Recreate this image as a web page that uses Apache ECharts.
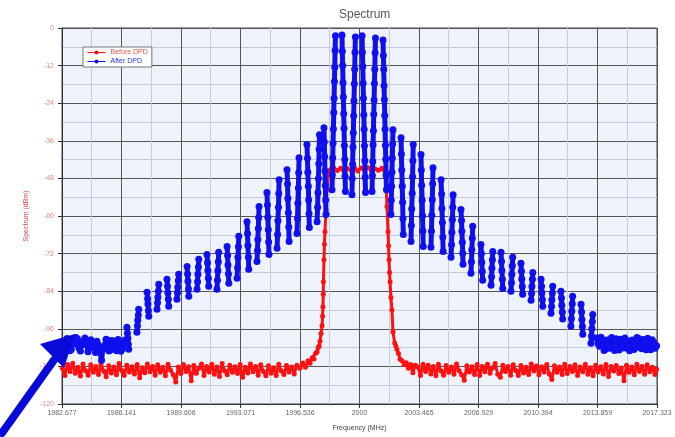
<!DOCTYPE html>
<html>
<head>
<meta charset="utf-8">
<script src="https://cdn.jsdelivr.net/npm/echarts@6/dist/echarts.min.js"></script>
<style>html,body{margin:0;padding:0;background:#fff;}#c{width:675px;height:437px;}</style>
</head>
<body>
<div id="c"></div>
<script>
// ---- tick labels ----
const xTickLabels = ['1982.677','1986.141','1989.606','1993.071','1996.536','2000','2003.465','2006.929','2010.394','2013.859','2017.323'];
const seriesNames = ['Before DPD','After DPD'];

// ---- Before DPD (red) [MHz, dBm] ----
const redFloorLeft = [
[1982.70,-108.6],[1982.85,-110.9],[1983.00,-107.4],[1983.15,-109.6],[1983.30,-107.0],[1983.45,-110.2],[1983.60,-108.3],[1983.75,-111.1],[1983.90,-107.2],[1984.05,-109.4],
[1984.20,-110.8],[1984.35,-107.5],[1984.50,-109.9],[1984.65,-108.0],[1984.80,-110.6],[1984.95,-107.3],[1985.10,-109.5],[1985.25,-111.3],[1985.40,-107.8],[1985.55,-110.1],
[1985.70,-108.2],[1985.85,-110.7],[1986.00,-107.1],[1986.15,-109.3],[1986.30,-110.9],[1986.45,-107.6],[1986.60,-109.8],[1986.75,-108.1],[1986.90,-110.4],[1987.05,-107.4],
[1987.20,-111.6],[1987.35,-108.4],[1987.50,-110.0],[1987.65,-107.2],[1987.80,-109.7],[1987.95,-108.0],[1988.10,-110.8],[1988.25,-107.5],[1988.40,-109.9],[1988.55,-108.3],
[1988.70,-111.0],[1988.85,-107.3],[1989.00,-109.2],[1989.15,-110.6],[1989.30,-113.0],[1989.45,-108.2],[1989.60,-110.3],[1989.75,-107.4],[1989.90,-109.6],[1990.05,-108.1],
[1990.20,-112.6],[1990.35,-107.7],[1990.50,-110.2],[1990.65,-108.5],[1990.80,-107.2],[1990.95,-110.9],[1991.10,-108.0],[1991.25,-109.8],[1991.40,-107.3],[1991.55,-110.5],
[1991.70,-108.2],[1991.85,-111.2],[1992.00,-107.1],[1992.15,-109.5],[1992.30,-110.7],[1992.45,-107.6],[1992.60,-109.9],[1992.75,-108.1],[1992.90,-110.3],[1993.05,-107.4],
[1993.20,-111.5],[1993.35,-108.3],[1993.50,-110.1],[1993.65,-107.2],[1993.80,-109.7],[1993.95,-108.0],[1994.10,-110.8],[1994.25,-107.5],[1994.40,-109.6],[1994.55,-111.0],
[1994.70,-107.8],[1994.85,-110.2],[1995.00,-108.4],[1995.15,-110.9],[1995.30,-107.3],[1995.45,-109.5],[1995.60,-110.6],[1995.75,-107.7],[1995.90,-109.8],[1996.05,-108.2],
[1996.20,-110.4],[1996.35,-107.6]
];
const redCarrier = [
[1996.53,-108.6],[1996.70,-106.9],[1996.85,-108.3],[1997.00,-106.2],[1997.12,-107.0],[1997.25,-105.2],[1997.35,-105.6],[1997.45,-103.8],[1997.53,-103.4],[1997.60,-102.0],
[1997.65,-101.5],[1997.70,-100.0],[1997.76,-97.5],[1997.82,-95.0],[1997.85,-92.0],[1997.87,-89.0],[1997.89,-85.0],[1997.90,-81.0],[1997.93,-74.0],[1997.96,-69.0],
[1997.99,-65.0],[1998.05,-58.0],[1998.11,-51.6],[1998.17,-47.0],
[1998.30,-45.2],[1998.50,-44.6],[1998.70,-45.5],[1998.90,-44.8],[1999.10,-45.8],[1999.30,-44.9],[1999.50,-45.4],[1999.70,-44.5],[1999.90,-45.6],[2000.10,-44.7],
[2000.30,-45.3],[2000.50,-44.6],[2000.70,-45.7],[2000.90,-44.9],[2001.10,-45.4],[2001.30,-44.8],[2001.50,-46.5],[2001.56,-51.0],[2001.60,-57.0],[2001.66,-65.0],
[2001.69,-69.5],[2001.72,-74.0],[2001.75,-78.0],[2001.78,-81.0],[2001.83,-86.0],[2001.89,-90.0],[2001.95,-97.0],[2002.05,-100.5],[2002.12,-101.6],[2002.18,-102.5],
[2002.27,-103.9],[2002.36,-105.7],[2002.48,-106.2],[2002.60,-107.5],[2002.72,-106.8],[2002.85,-108.6],[2002.98,-107.4],[2003.11,-110.0],[2003.25,-107.6]
];
const redFloorRight = [
[2003.40,-108.2],[2003.55,-110.9],[2003.70,-107.3],[2003.85,-109.6],[2004.00,-107.6],[2004.15,-110.4],[2004.30,-108.0],[2004.45,-111.0],[2004.60,-107.3],[2004.75,-109.5],
[2004.90,-110.8],[2005.05,-107.7],[2005.20,-109.9],[2005.35,-108.2],[2005.50,-110.5],[2005.65,-107.2],[2005.80,-109.4],[2005.95,-110.7],[2006.10,-112.4],[2006.25,-107.8],
[2006.40,-109.8],[2006.55,-108.1],[2006.70,-110.6],[2006.85,-107.4],[2007.00,-110.9],[2007.15,-108.0],[2007.30,-109.7],[2007.45,-107.3],[2007.60,-110.2],[2007.75,-108.4],
[2007.90,-107.1],[2008.05,-110.5],[2008.20,-111.5],[2008.35,-107.6],[2008.50,-109.6],[2008.65,-108.0],[2008.80,-110.8],[2008.95,-107.5],[2009.10,-109.3],[2009.25,-110.9],
[2009.40,-107.7],[2009.55,-110.1],[2009.70,-108.3],[2009.85,-110.6],[2010.00,-107.2],[2010.15,-109.5],[2010.30,-107.9],[2010.45,-110.7],[2010.60,-108.1],[2010.75,-109.8],
[2010.90,-107.4],[2011.05,-110.4],[2011.20,-112.2],[2011.35,-107.8],[2011.50,-109.9],[2011.65,-108.2],[2011.80,-110.6],[2011.95,-107.3],[2012.10,-110.3],[2012.25,-108.0],
[2012.40,-109.6],[2012.55,-107.5],[2012.70,-110.9],[2012.85,-108.2],[2013.00,-109.7],[2013.15,-107.3],[2013.30,-110.5],[2013.45,-108.4],[2013.60,-111.0],[2013.75,-107.6],
[2013.90,-109.8],[2014.05,-108.1],[2014.20,-110.4],[2014.35,-107.4],[2014.50,-111.2],[2014.65,-108.0],[2014.80,-109.5],[2014.95,-107.7],[2015.10,-110.3],[2015.25,-108.5],
[2015.40,-112.6],[2015.55,-107.6],[2015.70,-109.9],[2015.85,-108.2],[2016.00,-110.7],[2016.15,-107.3],[2016.30,-109.6],[2016.45,-108.0],[2016.60,-110.5],[2016.75,-107.5],
[2016.90,-109.7],[2017.05,-108.3],[2017.20,-110.6],[2017.30,-108.9]
];

// ---- After DPD (blue) [MHz, dBm] : noise floors and comb stripes ----
const blueFloorLeft = [
[1982.70,-100.2],[1982.80,-102.6],[1982.88,-101.8],[1982.97,-99.1],[1983.05,-99.5],[1983.14,-103.0],[1983.22,-102.6],[1983.31,-100.0],[1983.40,-100.8],[1983.49,-98.8],
[1983.58,-99.2],[1983.66,-102.1],[1983.75,-103.1],[1983.84,-100.4],[1983.93,-101.0],[1984.01,-98.9],[1984.10,-99.8],[1984.19,-103.3],[1984.28,-102.2],[1984.36,-99.5],
[1984.45,-100.4],[1984.54,-101.7],[1984.63,-103.6],[1984.71,-100.0],[1984.80,-101.2],[1984.89,-103.4],[1984.98,-106.0],[1985.06,-102.5],[1985.15,-101.9],[1985.24,-99.3],
[1985.33,-99.6],[1985.41,-103.1],[1985.50,-102.8],[1985.59,-99.7],[1985.68,-100.1],[1985.76,-102.0],[1985.85,-103.0],[1985.94,-99.4],[1986.03,-100.6],[1986.11,-103.2],
[1986.20,-102.4],[1986.35,-99.6]
];
const blueStripesLeft = [
[[1986.46,-95.5],[1986.49,-97.4],[1986.51,-99.0],[1986.54,-100.9],[1986.56,-102.5]],
[[1987.04,-97.1],[1987.07,-95.0],[1987.09,-93.3],[1987.12,-91.6],[1987.14,-89.8]],
[[1987.63,-84.3],[1987.66,-86.4],[1987.68,-88.1],[1987.71,-90.2],[1987.73,-92.0]],
[[1988.21,-89.8],[1988.24,-87.7],[1988.26,-85.9],[1988.29,-83.9],[1988.31,-81.8]],
[[1988.79,-80.2],[1988.82,-82.4],[1988.84,-84.5],[1988.87,-86.6],[1988.89,-88.8]],
[[1989.37,-86.6],[1989.40,-84.5],[1989.42,-82.7],[1989.45,-80.6],[1989.47,-78.6]],
[[1989.96,-76.1],[1989.99,-78.5],[1990.01,-80.8],[1990.04,-83.3],[1990.06,-85.6]],
[[1990.54,-83.4],[1990.57,-81.0],[1990.59,-78.6],[1990.62,-76.3],[1990.64,-73.8]],
[[1991.12,-72.3],[1991.15,-74.9],[1991.17,-77.4],[1991.20,-79.9],[1991.22,-82.4]],
[[1991.70,-83.4],[1991.73,-80.5],[1991.75,-77.5],[1991.78,-74.6],[1991.80,-71.6]],
[[1992.29,-69.7],[1992.32,-72.6],[1992.34,-75.6],[1992.37,-78.5],[1992.39,-81.5]],
[[1992.87,-79.9],[1992.90,-76.5],[1992.92,-73.2],[1992.95,-69.8],[1992.97,-66.5]],
[[1993.45,-61.8],[1993.48,-65.6],[1993.50,-69.4],[1993.53,-73.2],[1993.55,-77.0]],
[[1994.03,-74.5],[1994.06,-71.0],[1994.08,-67.5],[1994.11,-64.0],[1994.13,-60.5],[1994.15,-57.0]],
[[1994.61,-52.5],[1994.64,-56.5],[1994.66,-60.4],[1994.69,-64.4],[1994.71,-68.3],[1994.73,-72.3]],
[[1995.20,-70.3],[1995.23,-65.9],[1995.25,-61.5],[1995.28,-57.2],[1995.30,-52.8],[1995.32,-48.4]],
[[1995.78,-45.2],[1995.81,-49.8],[1995.83,-54.4],[1995.86,-59.0],[1995.88,-63.5],[1995.90,-68.1]],
[[1996.36,-65.6],[1996.39,-60.8],[1996.41,-55.9],[1996.44,-51.1],[1996.46,-46.2],[1996.48,-41.4]],
[[1996.94,-37.2],[1996.97,-41.6],[1996.99,-46.0],[1997.02,-50.5],[1997.04,-54.9],[1997.06,-59.3],[1997.08,-63.7]],
[[1997.53,-61.8],[1997.56,-57.2],[1997.58,-52.6],[1997.61,-48.0],[1997.63,-43.3],[1997.65,-38.7],[1997.67,-34.1]],
[[1997.93,-31.8],[1997.95,-36.4],[1997.97,-41.0],[1997.99,-45.6],[1998.01,-50.3],[1998.03,-54.9],[1998.05,-59.5]]
];
const blueStripesCenter = [
[[1998.40,-51.6],[1998.42,-46.9],[1998.44,-41.5],[1998.46,-36.8],[1998.48,-32.2],[1998.50,-27.0],[1998.52,-22.4],[1998.54,-17.1],[1998.56,-12.5],[1998.58,-7.2],[1998.60,-2.5]],
[[1998.98,-2.2],[1999.00,-7.4],[1999.02,-12.0],[1999.04,-17.5],[1999.06,-22.0],[1999.08,-27.4],[1999.10,-32.0],[1999.12,-37.5],[1999.14,-42.0],[1999.16,-47.3],[1999.18,-52.2]],
[[1999.56,-53.2],[1999.58,-48.0],[1999.60,-43.5],[1999.62,-38.0],[1999.64,-33.4],[1999.66,-28.0],[1999.68,-23.2],[1999.70,-17.8],[1999.72,-13.2],[1999.74,-7.7],[1999.76,-2.9]],
[[2000.15,-2.5],[2000.17,-7.7],[2000.19,-12.3],[2000.21,-17.6],[2000.23,-22.4],[2000.25,-27.7],[2000.27,-32.3],[2000.29,-37.6],[2000.31,-42.4],[2000.33,-47.6],[2000.35,-52.5]],
[[2000.73,-52.2],[2000.75,-47.1],[2000.77,-42.6],[2000.79,-37.3],[2000.81,-32.8],[2000.83,-27.5],[2000.85,-23.0],[2000.87,-17.7],[2000.89,-13.2],[2000.91,-7.9],[2000.93,-3.2]],
[[2001.37,-3.8],[2001.39,-8.8],[2001.41,-13.2],[2001.43,-18.4],[2001.45,-22.8],[2001.47,-27.9],[2001.49,-32.3],[2001.51,-37.5],[2001.53,-41.9],[2001.55,-47.1],[2001.57,-51.6]]
];
const blueStripesRight = [
[[2001.83,-59.5],[2001.85,-55.0],[2001.87,-50.5],[2001.89,-46.0],[2001.91,-41.5],[2001.93,-37.0],[2001.95,-32.5]],
[[2002.42,-35.0],[2002.44,-40.2],[2002.46,-45.3],[2002.49,-50.5],[2002.51,-55.6],[2002.53,-60.8],[2002.55,-65.9]],
[[2003.00,-68.1],[2003.02,-63.0],[2003.04,-57.8],[2003.07,-52.7],[2003.09,-47.5],[2003.11,-42.4],[2003.13,-37.2]],
[[2003.58,-40.4],[2003.60,-45.3],[2003.62,-50.2],[2003.65,-55.0],[2003.67,-59.9],[2003.69,-64.8],[2003.71,-69.7]],
[[2004.16,-70.0],[2004.19,-64.9],[2004.21,-59.8],[2004.24,-54.8],[2004.26,-49.7],[2004.28,-44.6]],
[[2004.75,-48.4],[2004.78,-53.0],[2004.80,-57.6],[2004.83,-62.1],[2004.85,-66.7],[2004.87,-71.3]],
[[2005.33,-73.2],[2005.36,-69.2],[2005.38,-65.2],[2005.41,-61.2],[2005.43,-57.2],[2005.45,-53.2]],
[[2005.91,-57.9],[2005.94,-61.4],[2005.96,-64.9],[2005.99,-68.4],[2006.01,-71.9],[2006.03,-75.4]],
[[2006.49,-78.3],[2006.52,-74.6],[2006.54,-70.8],[2006.57,-67.1],[2006.59,-63.3]],
[[2007.07,-69.1],[2007.10,-72.0],[2007.12,-74.8],[2007.15,-77.7],[2007.17,-80.5]],
[[2007.66,-82.1],[2007.69,-79.4],[2007.71,-76.7],[2007.74,-74.0],[2007.76,-71.3]],
[[2008.24,-71.6],[2008.27,-74.5],[2008.29,-77.4],[2008.32,-80.2],[2008.34,-83.1]],
[[2008.82,-84.0],[2008.85,-81.3],[2008.87,-78.6],[2008.90,-75.9],[2008.92,-73.2]],
[[2009.40,-75.1],[2009.43,-77.6],[2009.45,-80.1],[2009.48,-82.5],[2009.50,-85.0]],
[[2009.99,-86.9],[2010.02,-84.7],[2010.04,-82.5],[2010.07,-80.2],[2010.09,-78.0]],
[[2010.57,-80.2],[2010.60,-82.4],[2010.62,-84.5],[2010.65,-86.7],[2010.67,-88.8]],
[[2011.15,-91.0],[2011.18,-88.9],[2011.20,-86.7],[2011.23,-84.6],[2011.25,-82.4]],
[[2011.73,-84.0],[2011.76,-86.2],[2011.78,-88.5],[2011.81,-90.7],[2011.83,-92.9]],
[[2012.31,-95.2],[2012.34,-92.8],[2012.36,-90.4],[2012.39,-88.0],[2012.41,-85.6]],
[[2012.90,-88.2],[2012.93,-90.6],[2012.95,-93.0],[2012.98,-95.3],[2013.00,-97.7]],
[[2013.48,-100.6],[2013.51,-98.3],[2013.53,-96.0],[2013.56,-93.7],[2013.58,-91.4]]
];
const blueFloorRight = [
[2013.80,-98.9],[2013.89,-100.8],[2013.98,-101.6],[2014.06,-98.7],[2014.15,-99.4],[2014.24,-102.9],[2014.33,-102.5],[2014.41,-99.6],[2014.50,-100.2],[2014.59,-102.2],
[2014.68,-98.8],[2014.76,-101.0],[2014.85,-102.9],[2014.94,-99.2],[2015.03,-100.6],[2015.11,-102.8],[2015.20,-99.3],[2015.29,-101.5],[2015.38,-102.1],[2015.46,-98.9],
[2015.55,-100.0],[2015.64,-102.4],[2015.73,-103.0],[2015.81,-99.8],[2015.90,-99.6],[2015.99,-102.6],[2016.08,-101.8],[2016.16,-98.8],[2016.25,-99.1],[2016.34,-101.9],
[2016.43,-102.4],[2016.51,-99.4],[2016.60,-100.5],[2016.69,-102.7],[2016.78,-99.0],[2016.86,-101.3],[2016.95,-102.7],[2017.04,-99.5],[2017.13,-100.3],[2017.22,-102.2],
[2017.30,-101.4]
];

const redData = [].concat(redFloorLeft, redCarrier, redFloorRight);
// stripes are separate runs: an empty value between runs breaks the line
const blueGroups = [blueFloorLeft].concat(blueStripesLeft, blueStripesCenter, blueStripesRight, [blueFloorRight]);
const blueData = [];
blueGroups.forEach(function (g) {
  g.forEach(function (p) { blueData.push(p); });
  blueData.push([g[g.length - 1][0], '-']);
});

const FONT = 'Liberation Sans, Arial, sans-serif';
const chart = echarts.init(document.getElementById('c'), null, {renderer: 'canvas'});
chart.setOption({
  animation: false,
  backgroundColor: '#ffffff',
  title: {
    text: 'Spectrum', left: 334, top: 4,
    textStyle: {color: '#555', fontSize: 12, fontWeight: 'normal', fontFamily: FONT}
  },
  legend: {
    orient: 'vertical', left: 83, top: 47,
    backgroundColor: '#ffffff', borderColor: '#777', borderWidth: 1,
    padding: [2, 4, 2, 4], itemGap: 2, itemWidth: 18, itemHeight: 5,
    data: [
      {name: seriesNames[0], textStyle: {color: '#e05545'}, lineStyle: {width: 1}},
      {name: seriesNames[1], textStyle: {color: '#2233dd'}, lineStyle: {width: 1}}
    ],
    textStyle: {fontSize: 7, fontFamily: FONT}
  },
  grid: {
    left: 62, right: 18, top: 28, bottom: 32,
    show: true, backgroundColor: '#eef3fb', borderColor: '#444', borderWidth: 1
  },
  xAxis: {
    type: 'value', min: 1982.677, max: 2017.323, interval: 3.46459,
    name: 'Frequency (MHz)', nameLocation: 'middle', nameGap: 21,
    nameTextStyle: {color: '#444', fontSize: 7, fontFamily: FONT},
    axisLine: {show: true, onZero: false, lineStyle: {color: '#333'}},
    axisTick: {show: true, length: 4, lineStyle: {color: '#333'}},
    axisLabel: {
      color: '#666', fontSize: 7, fontFamily: FONT, margin: 6, showMinLabel: true, showMaxLabel: true,
      formatter: function (v, i) { return xTickLabels[i] !== undefined ? xTickLabels[i] : ''; }
    },
    splitLine: {show: true, lineStyle: {color: '#555', width: 1}},
    minorTick: {show: false, splitNumber: 2},
    minorSplitLine: {show: true, lineStyle: {color: '#c5ccd8', width: 1}}
  },
  yAxis: {
    type: 'value', min: -120, max: 0, interval: 12,
    name: 'Spectrum (dBm)', nameLocation: 'middle', nameGap: 26, nameRotate: 90,
    nameTextStyle: {color: '#d8404f', fontSize: 7, fontFamily: FONT},
    axisLine: {show: true, lineStyle: {color: '#333'}},
    axisTick: {show: true, length: 4, lineStyle: {color: '#333'}},
    axisLabel: {color: '#e58a80', fontSize: 7, fontFamily: FONT, margin: 8},
    splitLine: {show: true, lineStyle: {color: '#555', width: 1}},
    minorTick: {show: false, splitNumber: 2},
    minorSplitLine: {show: true, lineStyle: {color: '#c5ccd8', width: 1}}
  },
  series: [
    {
      name: seriesNames[0], type: 'line', data: redData,
      symbol: 'circle', symbolSize: 5, showSymbol: true,
      itemStyle: {color: '#ff1010'}, lineStyle: {color: '#ff1010', width: 3},
      z: 2
    },
    {
      name: seriesNames[1], type: 'line', data: blueData, connectNulls: false,
      symbol: 'circle', symbolSize: 7, showSymbol: true,
      itemStyle: {color: '#1010ee'}, lineStyle: {color: '#1010ee', width: 5},
      z: 3
    }
  ],
  graphic: [
    {type: 'line', shape: {x1: 2, y1: 433, x2: 54, y2: 360}, style: {stroke: '#0a0ad8', lineWidth: 8, lineCap: 'round'}, z: 100},
    {type: 'polygon', shape: {points: [[75, 334], [40, 344], [64, 368]]}, style: {fill: '#0a0ad8'}, z: 100}
  ]
});
</script>
</body>
</html>
